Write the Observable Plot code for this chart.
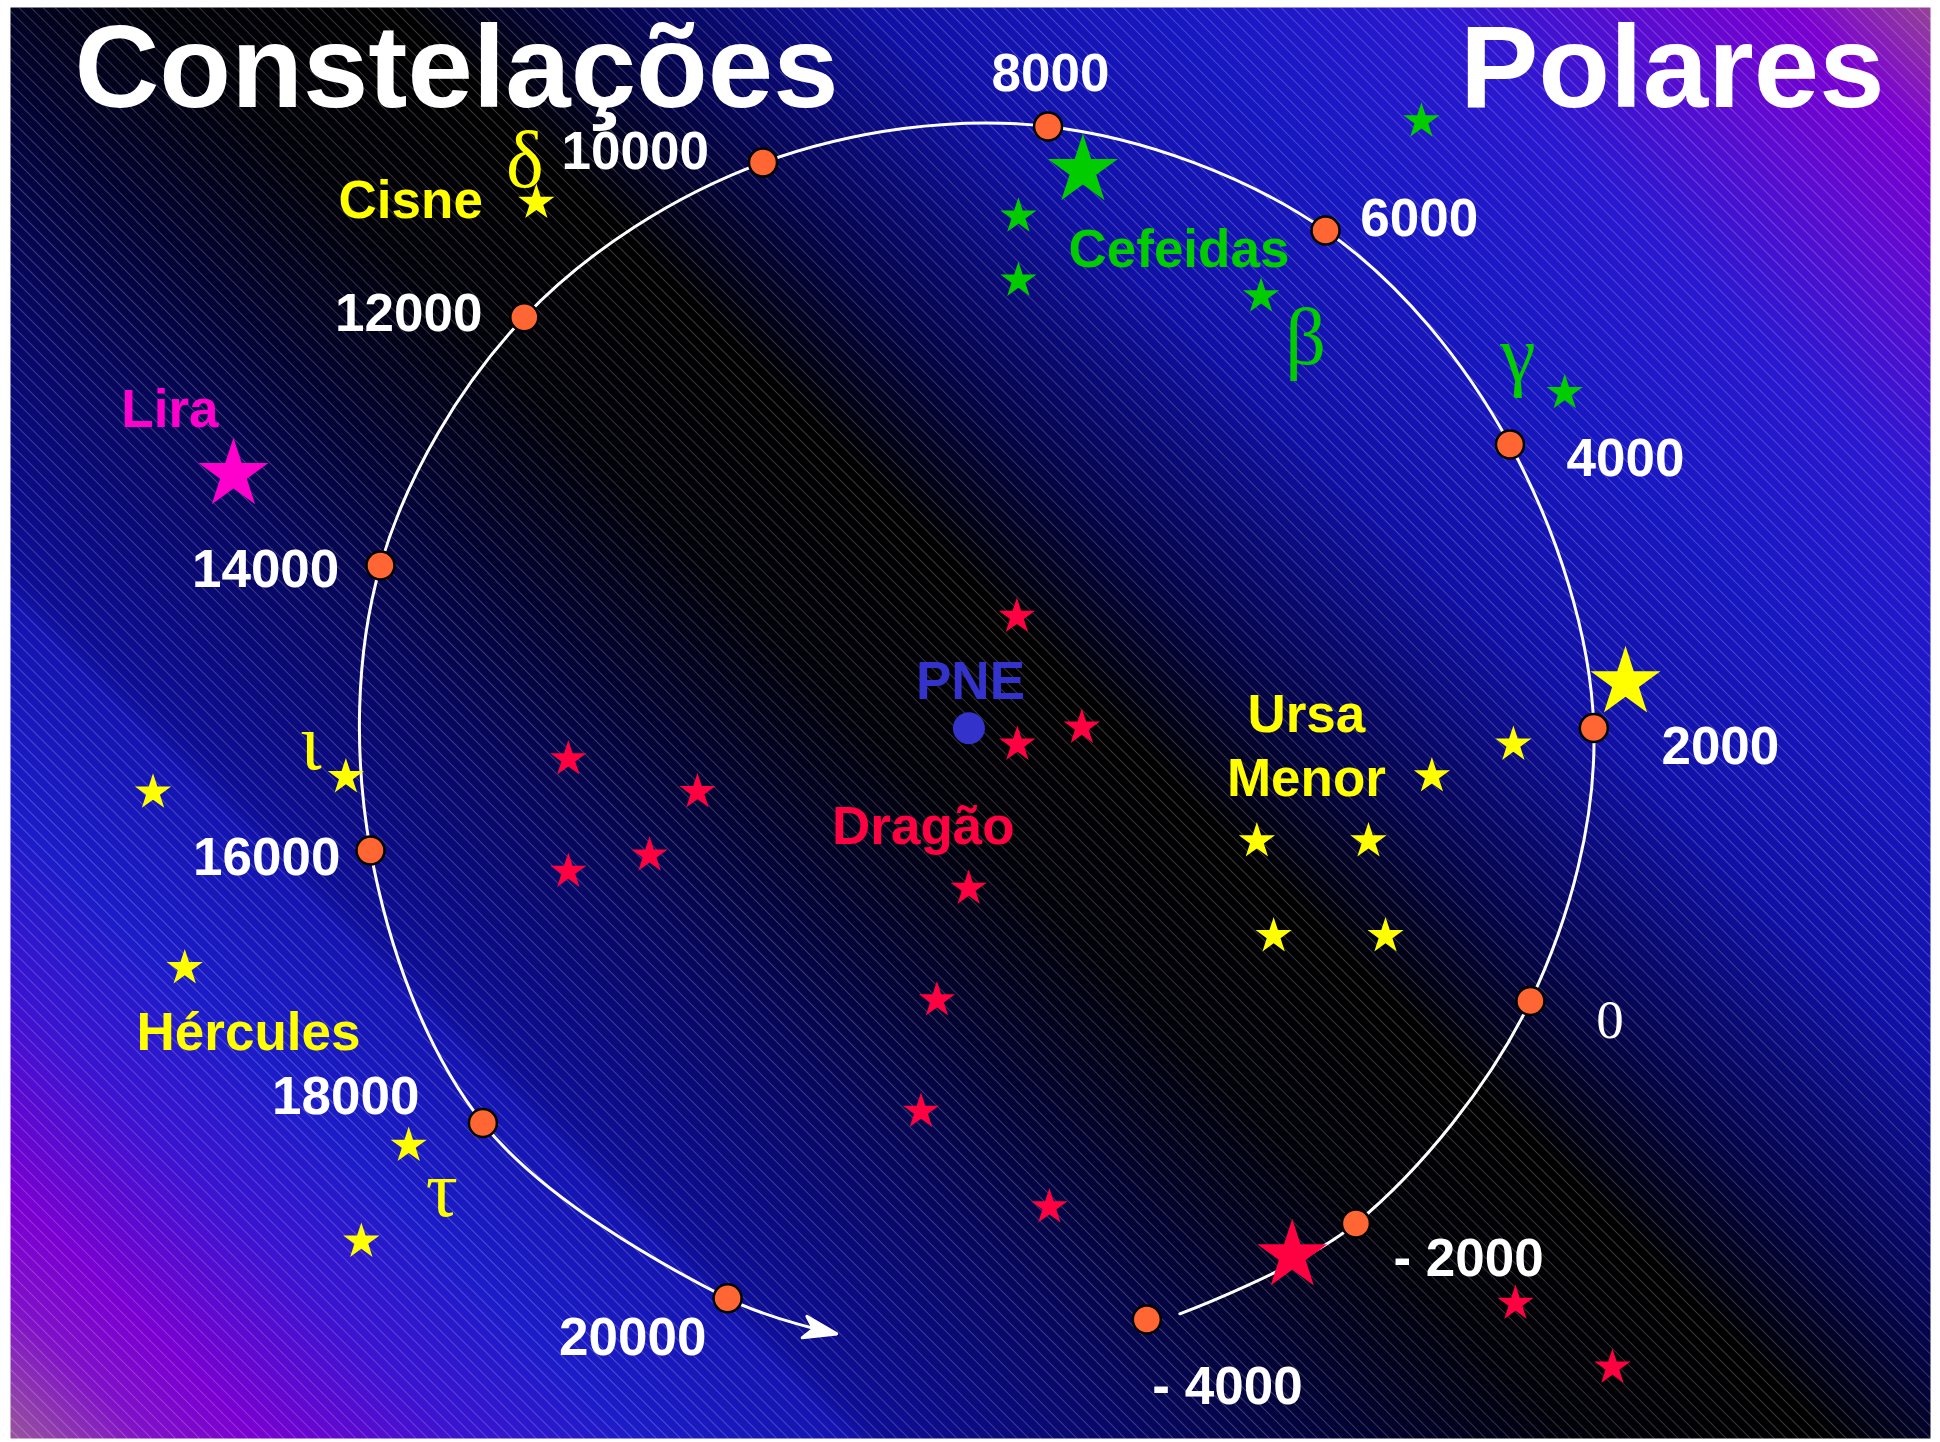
<!DOCTYPE html>
<html>
<head>
<meta charset="utf-8">
<script src="https://cdn.jsdelivr.net/npm/d3@7"></script>
<script src="https://cdn.jsdelivr.net/npm/@observablehq/plot@0.6"></script>
<style>
  html, body { margin: 0; padding: 0; background: #ffffff; }
  #chart svg { display: block; }
</style>
</head>
<body>
<div id="chart"></div>
<script>
// ---------------- DATA (degrees from the north ecliptic pole, PNE) ----------------
const title = ["Constelações", "Polares"];

// Precession path of the celestial pole: year markers
const years = [-4000, -2000, 0, 2000, 4000, 6000, 8000, 10000, 12000, 14000, 16000, 18000, 20000];
const poleX = [6.79, 14.77, 21.43, 23.85, 20.65, 13.61, 3.02, -7.86, -16.97, -22.46, -22.84, -18.55, -9.21];
const poleY = [-22.52, -18.85, -10.36, 0.06, 10.88, 19.05, 23.02, 21.64, 15.74, 6.26, -4.62, -15.02, -21.71];
// where the drawn path starts and where its arrow ends
const pathStart = [8.05, -22.30];
const pathEnd = [-5.08, -23.06];

// year label anchors (annotation positions)
const yearLabelX = [7.00, 16.20, 24.47, 26.43, 22.81, 14.94, 3.11, -15.55, -18.57, -24.03, -23.99, -20.97, -10.02];
const yearLabelY = [-25.73, -20.84, -11.76, -1.30, 9.67, 18.85, 24.36, 21.41, 15.23, 5.46, -5.57, -14.66, -23.89];
const yearLabelSide = ["start", "start", "middle", "start", "start", "start", "middle", "start", "end", "end", "end", "end", "end"];

// stars: [x, y, bright]
const cefeidas = [[4.35, 21.34, 1], [17.27, 23.22, 0], [1.89, 19.59, 0], [1.89, 17.14, 0], [11.15, 16.54, 0], [22.74, 12.85, 0]];
const ursaMenor = [[25.06, 1.79, 1], [20.78, -0.57, 0], [17.67, -1.78, 0], [10.99, -4.26, 0], [15.25, -4.26, 0], [11.63, -7.88, 0], [15.90, -7.88, 0]];
const dragao = [[1.83, 4.31, 0], [4.31, 0.08, 0], [1.85, -0.57, 0], [-15.29, -1.13, 0], [-10.36, -2.38, 0], [-12.19, -4.80, 0], [-15.29, -5.42, 0], [-0.01, -6.07, 0], [-1.22, -10.33, 0], [-1.83, -14.58, 0], [3.07, -18.23, 0], [12.34, -20.08, 1], [20.86, -21.91, 0], [24.56, -24.35, 0]];
const lira = [[-28.07, 9.74, 1]];
const cisne = [[-16.51, 20.11, 0]];
const hercules = [[-23.78, -1.81, 0], [-31.14, -2.40, 0], [-29.93, -9.10, 0], [-21.38, -15.88, 0], [-23.19, -19.54, 0]];
const pne = [[0, 0.05]];

// constellation names: [text, group, x, y, side]
const names = [
  ["Cisne", "Cisne", -24.06, 19.54, "start"],
  ["Cefeidas", "Cefeidas", 3.80, 17.65, "start"],
  ["Lira", "Lira", -32.35, 11.54, "start"],
  ["Hércules", "Hércules", -31.77, -12.25, "start"],
  ["Dragão", "Dragão", -1.74, -4.35, "middle"],
  ["Ursa\nMenor", "Ursa Menor", 12.88, -2.52, "middle"],
  ["PNE", "PNE", 0.06, 1.18, "middle"]
];
// Greek letters naming the pole stars: [letter, group, x, y]
const greek = [
  ["δ", "Cisne", -16.95, 20.69],
  ["β", "Cefeidas", 12.85, 13.95],
  ["γ", "Cefeidas", 20.95, 13.32],
  ["ι", "Hércules", -25.12, -1.49],
  ["τ", "Hércules", -20.12, -18.55]
];

const groups = ["Cefeidas", "Ursa Menor", "Dragão", "Lira", "Cisne", "Hércules", "PNE"];
const groupColors = ["#00cc00", "#ffff00", "#ff0040", "#ff00cc", "#ffff00", "#ffff00", "#3333cc"];

// ---------------- BUILD TABLES ----------------
const markers = years.map((year, i) => ({
  year, x: poleX[i], y: poleY[i],
  lx: yearLabelX[i], ly: yearLabelY[i], side: yearLabelSide[i],
  label: year < 0 ? `- ${-year}` : `${year}`
}));
const path = [
  {x: pathStart[0], y: pathStart[1]},
  ...markers.slice(1).map(d => ({x: d.x, y: d.y})),
  {x: pathEnd[0], y: pathEnd[1]}
];
const toStars = (arr, group) => arr.map(([x, y, bright]) => ({group, x, y, bright}));
const stars = [
  ...toStars(cefeidas, "Cefeidas"), ...toStars(ursaMenor, "Ursa Menor"),
  ...toStars(dragao, "Dragão"), ...toStars(lira, "Lira"),
  ...toStars(cisne, "Cisne"), ...toStars(hercules, "Hércules")
];
const nameRows = names.map(([text, group, x, y, side]) => ({text, group, x, y, side}));
const greekRows = greek.map(([text, group, x, y]) => ({text, group, x, y}));

// ---------------- STYLE ----------------
const SANS = "'Liberation Sans', Arial, Helvetica, sans-serif";
const SERIF = "'Liberation Serif', 'Times New Roman', serif";

function stealth(color, context) {
  const ns = "http://www.w3.org/2000/svg";
  const doc = context && context.document ? context.document : document;
  const m = doc.createElementNS(ns, "marker");
  m.setAttribute("viewBox", "-34 -17 36 34");
  m.setAttribute("markerUnits", "userSpaceOnUse");
  m.setAttribute("markerWidth", 36);
  m.setAttribute("markerHeight", 34);
  m.setAttribute("refX", 0);
  m.setAttribute("refY", 0);
  m.setAttribute("orient", "auto");
  const p = doc.createElementNS(ns, "path");
  p.setAttribute("d", "M1,0L-32,-11L-23,0L-32,11Z");
  p.setAttribute("fill", color);
  m.appendChild(p);
  return m;
}

function build(arrowMarker) {
  const sides = ["start", "middle", "end"];
  return Plot.plot({
    width: 1940,
    height: 1442,
    marginLeft: 10, marginRight: 10, marginTop: 7, marginBottom: 4,
    x: {domain: [-36.58, 36.70], axis: null},
    y: {domain: [-27.06, 27.56], axis: null},
    color: {domain: groups, range: groupColors},
    style: {background: "#ffffff"},
    marks: [
      Plot.frame({fill: "url(#sky)", stroke: "none"}),
      Plot.frame({fill: "url(#hatch)", stroke: "none"}),
      Plot.line(path, {x: "x", y: "y", curve: "catmull-rom", stroke: "white", strokeWidth: 3, markerEnd: arrowMarker}),
      Plot.dot(markers, {x: "x", y: "y", r: 14, fill: "#ff6633", stroke: "black", strokeWidth: 2.5}),
      Plot.dot(pne, {x: d => d[0], y: d => d[1], r: 16, fill: "#3333cc"}),
      Plot.dot(stars.filter(d => !d.bright), {x: "x", y: "y", symbol: "star", r: 11.4, fill: "group"}),
      Plot.dot(stars.filter(d => d.bright), {x: "x", y: "y", symbol: "star", r: 22, fill: "group"}),
      ...sides.map(side => Plot.text(markers.filter(d => d.side === side && d.year !== 0), {
        x: "lx", y: "ly", text: "label", textAnchor: side, lineAnchor: "bottom",
        fill: "white", fontSize: 53, fontWeight: "bold", fontFamily: SANS
      })),
      Plot.text(markers.filter(d => d.year === 0), {
        x: "lx", y: "ly", text: "label", textAnchor: "middle", lineAnchor: "bottom",
        fill: "white", fontSize: 55, fontFamily: SERIF
      }),
      ...sides.map(side => Plot.text(nameRows.filter(d => d.side === side), {
        x: "x", y: "y", text: "text", textAnchor: side, lineAnchor: "bottom", lineHeight: 1.2,
        fill: "group", fontSize: 53, fontWeight: "bold", fontFamily: SANS
      })),
      Plot.text(greekRows, {
        x: "x", y: "y", text: "text", textAnchor: "middle", lineAnchor: "bottom",
        fill: "group", fontSize: 80, fontFamily: SERIF
      }),
      Plot.text([title[0]], {
        frameAnchor: "top-left", dx: 64, dy: 99, textAnchor: "start", lineAnchor: "bottom",
        fill: "white", fontSize: 117.5, fontWeight: "bold", fontFamily: SANS
      }),
      Plot.text([title[1]], {
        frameAnchor: "top-right", dx: -46, dy: 99, textAnchor: "end", lineAnchor: "bottom",
        fill: "white", fontSize: 117.5, fontWeight: "bold", fontFamily: SANS
      })
    ]
  });
}

let svg;
try { svg = build(stealth); } catch (e) { svg = build("arrow"); }

// background gradient and fine diagonal hatching
const defs = document.createElementNS("http://www.w3.org/2000/svg", "defs");
const stops = [
  [0.000, "#9a5a9a"], [0.045, "#8010c8"], [0.076, "#7a00d0"], [0.138, "#3a14d0"],
  [0.190, "#1c1cc8"], [0.252, "#1414b0"], [0.262, "#0e0e96"], [0.330, "#08086a"],
  [0.408, "#020230"], [0.470, "#000008"], [0.543, "#000000"], [0.605, "#05054e"],
  [0.683, "#1010a4"], [0.772, "#1818c2"], [0.849, "#2a18d0"], [0.907, "#5a0cd0"],
  [0.956, "#7a00d0"], [1.000, "#964696"]
];
defs.innerHTML =
  `<linearGradient id="sky" gradientUnits="userSpaceOnUse" x1="-392" y1="1048" x2="1292" y2="-637">` +
  stops.map(([o, c]) => `<stop offset="${o}" stop-color="${c}"/>`).join("") +
  `</linearGradient>` +
  `<pattern id="hatch" patternUnits="userSpaceOnUse" width="8.5" height="8.5" patternTransform="rotate(45)">` +
  `<line x1="0" y1="0.5" x2="8.5" y2="0.5" stroke="white" stroke-opacity="0.24" stroke-width="0.9"/>` +
  `</pattern>`;
svg.insertBefore(defs, svg.firstChild);

document.getElementById("chart").appendChild(svg);
</script>
</body>
</html>
